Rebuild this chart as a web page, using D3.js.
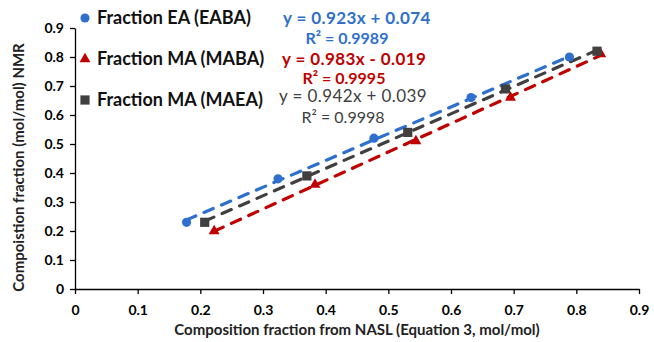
<!DOCTYPE html>
<meta charset="utf-8">
<style>
  body { margin: 0; background: #fff; }
  text { font-family: Lato, "Open Sans", sans-serif; }
</style>
<div id="chart"></div>
<script src="https://cdn.jsdelivr.net/npm/d3@7"></script>
<script>

// data
var seriesNames = ["Fraction EA (EABA)", "Fraction MA (MABA)", "Fraction MA (MAEA)"];
var eabaX = [0.178, 0.324, 0.477, 0.632, 0.789];
var eabaY = [0.23, 0.38, 0.52, 0.66, 0.80];
var mabaX = [0.222, 0.383, 0.544, 0.695, 0.839];
var mabaY = [0.20, 0.36, 0.51, 0.66, 0.81];
var maeaX = [0.207, 0.370, 0.531, 0.687, 0.833];
var maeaY = [0.23, 0.39, 0.54, 0.69, 0.82];
// trendline coefficients [slope, intercept] and labels
var fits = [[0.923, 0.074], [0.983, -0.019], [0.942, 0.039]];
var fitLabels = ["y = 0.923x + 0.074", "y = 0.983x - 0.019", "y = 0.942x + 0.039"];
var r2Labels = ["R\u00b2 = 0.9989", "R\u00b2 = 0.9995", "R\u00b2 = 0.9998"];
var xTicks = [0, 0.1, 0.2, 0.3, 0.4, 0.5, 0.6, 0.7, 0.8, 0.9];
var yTicks = [0, 0.1, 0.2, 0.3, 0.4, 0.5, 0.6, 0.7, 0.8, 0.9];

var colors = ["#2E70CC", "#C00000", "#404040"];
var markers = [d3.symbolCircle, d3.symbolTriangle, d3.symbolSquare];
var markerSize = [66, 52, 85];

var width = 654, height = 342;
var margin = {top: 28, right: 15, bottom: 53, left: 75};

var svg = d3.select("#chart").append("svg")
    .attr("width", width)
    .attr("height", height);

var x = d3.scaleLinear().domain([0, 0.9]).range([margin.left, width - margin.right]);
var y = d3.scaleLinear().domain([0, 0.9]).range([height - margin.bottom, margin.top]);

// axes
var xAxis = svg.append("g")
    .attr("transform", "translate(0," + y(0) + ")")
    .call(d3.axisBottom(x).tickValues(xTicks).tickSize(5).tickSizeOuter(0)
      .tickFormat(function(d) { return d === 0 ? "0" : d3.format(".1f")(d); }));
var yAxis = svg.append("g")
    .attr("transform", "translate(" + x(0) + ",0)")
    .call(d3.axisLeft(y).tickValues(yTicks).tickSize(5).tickSizeOuter(0)
      .tickFormat(function(d) { return d === 0 ? "0" : d3.format(".1f")(d); }));

[xAxis, yAxis].forEach(function(g) {
  g.select(".domain").attr("stroke", "#000").attr("stroke-width", 1.3);
  g.selectAll(".tick line").attr("stroke", "#000").attr("stroke-width", 1.3);
  g.selectAll(".tick text")
    .attr("fill", "#000")
    .style("font-family", "Lato, sans-serif")
    .style("font-weight", "bold")
    .style("font-size", "14px");
});
xAxis.selectAll(".tick text").attr("dy", "1.25em");
yAxis.selectAll(".tick text").attr("x", -11);

// axis titles
svg.append("text")
    .attr("x", (x(0) + x(0.9)) / 2)
    .attr("y", 335)
    .attr("text-anchor", "middle")
    .style("font-weight", "bold")
    .style("font-size", "15px")
    .attr("fill", "#222")
    .text("Composition fraction from NASL (Equation 3, mol/mol)");

svg.append("text")
    .attr("transform", "translate(24," + ((y(0) + y(0.9)) / 2 + 9) + ") rotate(-90)")
    .attr("text-anchor", "middle")
    .style("font-weight", "bold")
    .style("font-size", "15px")
    .attr("fill", "#222")
    .text("Compoistion fraction (mol/mol) NMR");

var series = [
  {xs: eabaX, ys: eabaY},
  {xs: mabaX, ys: mabaY},
  {xs: maeaX, ys: maeaY}
];

// trendlines, drawn under the markers
series.forEach(function(s, i) {
  var x0 = d3.min(s.xs), x1 = d3.max(s.xs);
  svg.append("line")
    .attr("x1", x(x0)).attr("y1", y(fits[i][0] * x0 + fits[i][1]))
    .attr("x2", x(x1)).attr("y2", y(fits[i][0] * x1 + fits[i][1]))
    .attr("stroke", colors[i])
    .attr("stroke-width", 3.2)
    .attr("stroke-dasharray", "10,9")
    .attr("stroke-linecap", "round");
});

// markers
series.forEach(function(s, i) {
  svg.append("g").selectAll("path")
    .data(s.xs.map(function(v, k) { return [v, s.ys[k]]; }))
    .enter().append("path")
    .attr("d", d3.symbol().type(markers[i]).size(markerSize[i]))
    .attr("transform", function(d) { return "translate(" + x(d[0]) + "," + y(d[1]) + ")"; })
    .attr("fill", colors[i]);
});

// legend
var legendY = [18, 59, 100];
seriesNames.forEach(function(name, i) {
  svg.append("path")
    .attr("d", d3.symbol().type(markers[i]).size(markerSize[i]))
    .attr("transform", "translate(85," + legendY[i] + ")")
    .attr("fill", colors[i]);
  svg.append("text")
    .attr("x", 97)
    .attr("y", legendY[i])
    .attr("dy", "0.35em")
    .style("font-weight", "bold")
    .style("font-size", "18px")
    .attr("fill", "#111")
    .text(name);
});

// trendline equations
var eqX = [283, 282, 279];
var eqY = [18, 59, 96];
var r2X = [347, 344, 343];
var r2Y = [38, 78, 117];
var eqWeight = ["bold", "bold", "normal"];
fitLabels.forEach(function(lbl, i) {
  svg.append("text")
    .attr("x", eqX[i]).attr("y", eqY[i]).attr("dy", "0.35em")
    .style("font-weight", eqWeight[i])
    .style("font-size", "17px")
    .style("letter-spacing", "0.4px")
    .attr("fill", colors[i])
    .text(lbl);
  svg.append("text")
    .attr("x", r2X[i]).attr("y", r2Y[i]).attr("dy", "0.35em")
    .attr("text-anchor", "middle")
    .style("font-weight", eqWeight[i])
    .style("font-size", "16px")
    .attr("fill", colors[i])
    .text(r2Labels[i]);
});

</script>
